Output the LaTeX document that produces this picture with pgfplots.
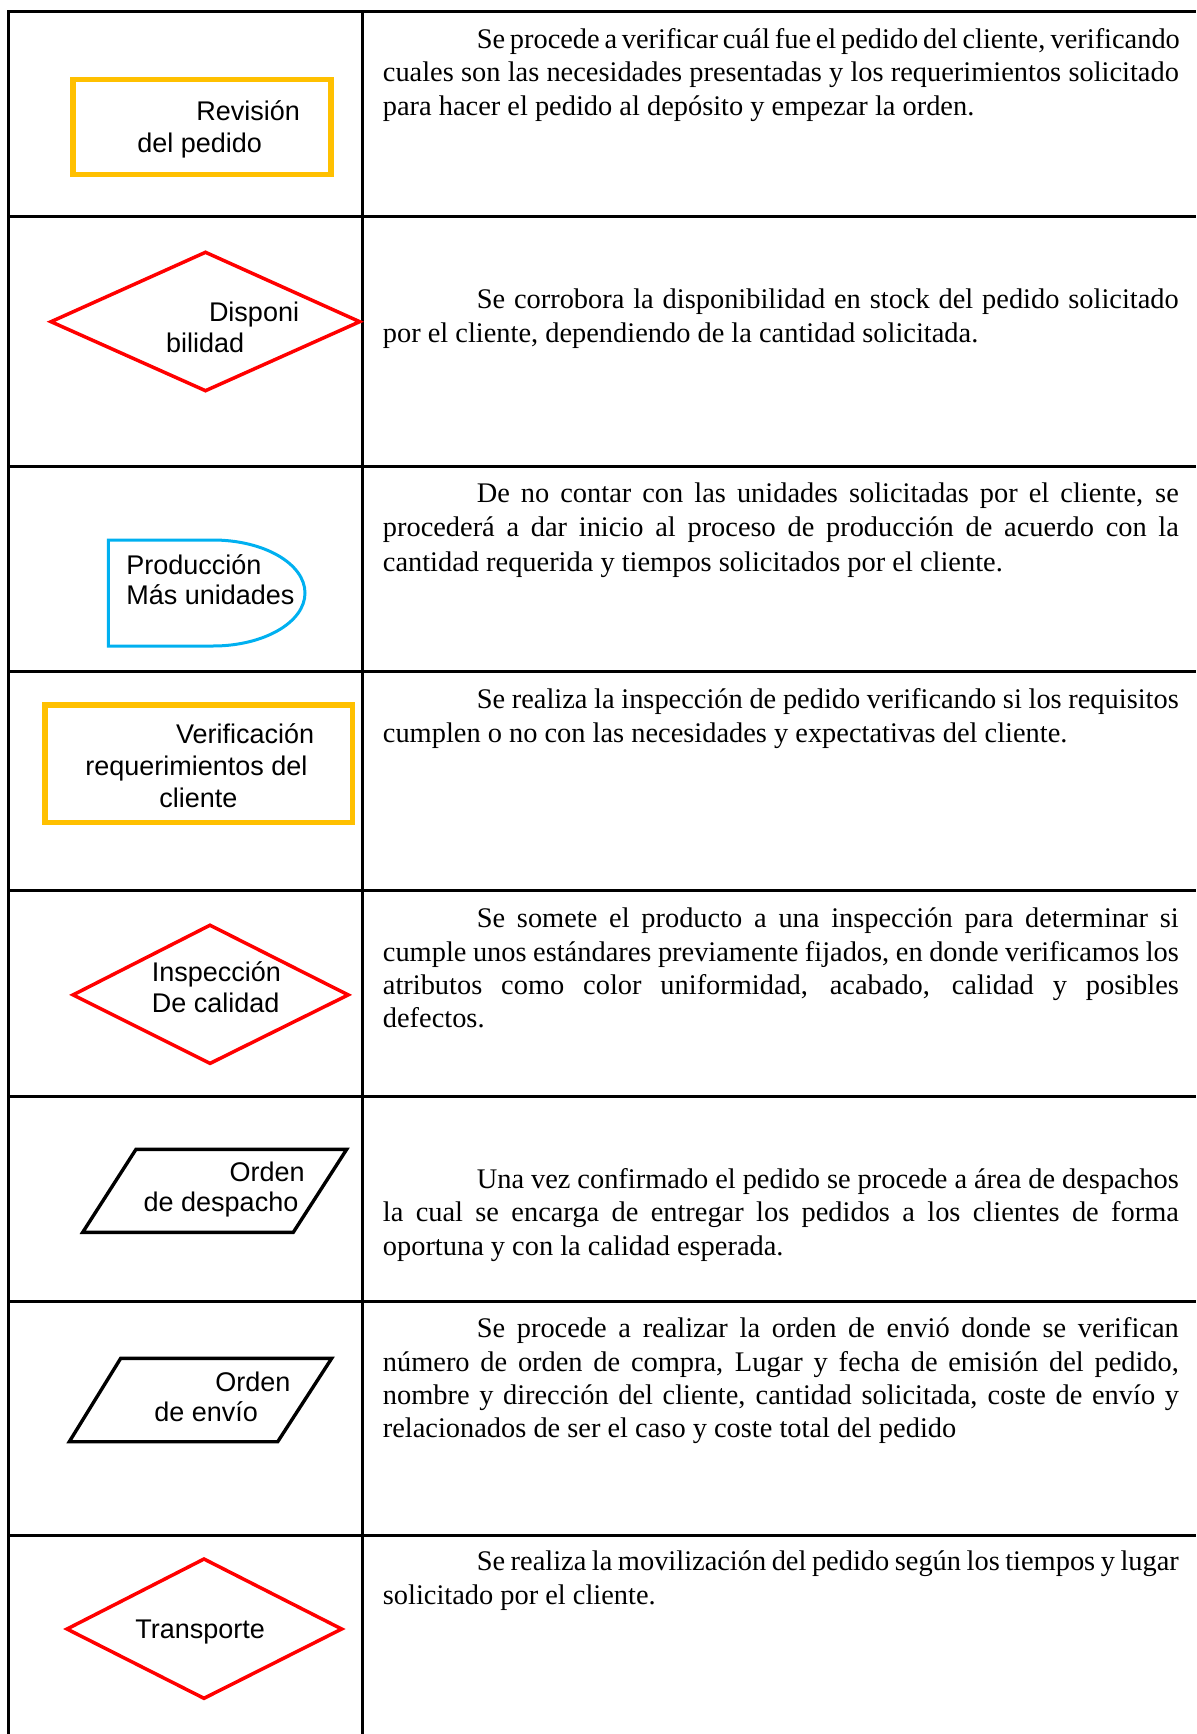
\documentclass[border=0pt]{standalone}
\usepackage{pgfplots}
\pgfplotsset{compat=1.18}
\usepackage{fontspec}
\setmainfont{Liberation Serif}
\newfontfamily\arial{Liberation Sans}
\definecolor{borange}{HTML}{FFC000}
\definecolor{bcyan}{HTML}{00B0F0}
\definecolor{bred}{HTML}{FF0000}
\newcommand\bt{\fontsize{14.2pt}{16pt}\selectfont}
\newcommand\FL[3]{\node[anchor=base west, inner sep=0pt] at (axis cs:382.5,#1) {\bt\makebox[398pt][s]{#3}};}
\newcommand\IL[2]{\node[anchor=base west, inner sep=0pt] at (axis cs:476.4,#1) {\bt\makebox[351pt][s]{#2}};}
\newcommand\LL[2]{\node[anchor=base west, inner sep=0pt] at (axis cs:382.5,#1) {\bt #2};}
\newcommand\SL[3]{\node[anchor=base west, inner sep=0pt, font=\arial\fontsize{13.5pt}{15pt}\selectfont] at (axis cs:#1,#2) {#3};}
\begin{document}
\begin{tikzpicture}
\begin{axis}[
  scale only axis, width=598pt, height=867pt,
  xmin=0, xmax=1196, ymin=0, ymax=1734, y dir=reverse,
  hide axis, clip=false,
]
% table grid
\addplot[black, line width=1.5pt] coordinates {(8,12) (8,1734)};
\addplot[black, line width=1.5pt] coordinates {(362,12) (362,1734)};
\addplot[black, line width=1.5pt] coordinates {(7.25,12) (1196,12)};
\addplot[black, line width=1.5pt] coordinates {(8,216) (1196,216)};
\addplot[black, line width=1.5pt] coordinates {(8,466) (1196,466)};
\addplot[black, line width=1.5pt] coordinates {(8,671) (1196,671)};
\addplot[black, line width=1.5pt] coordinates {(8,890) (1196,890)};
\addplot[black, line width=1.5pt] coordinates {(8,1096) (1196,1096)};
\addplot[black, line width=1.5pt] coordinates {(8,1301) (1196,1301)};
\addplot[black, line width=1.5pt] coordinates {(8,1535) (1196,1535)};

% shapes
\addplot[borange, line width=2.6pt, line join=miter] coordinates {(73,79.5) (331,79.5) (331,174.5) (73,174.5)} -- cycle;
\addplot[bred, line width=1.75pt, line join=miter] coordinates {(51,321.7) (205.5,252.3) (359.7,321.7) (205.5,390.7)} -- cycle;
\draw[bcyan, line width=1.5pt, line join=miter] (axis cs:108.3,540) -- (axis cs:213,540) .. controls (axis cs:263.8,540) and (axis cs:305,563.7) .. (axis cs:305,593) .. controls (axis cs:305,622.3) and (axis cs:263.8,646) .. (axis cs:213,646) -- (axis cs:108.3,646) -- cycle;
\addplot[borange, line width=2.6pt, line join=miter] coordinates {(45,705) (352.7,705) (352.7,822.3) (45,822.3)} -- cycle;
\addplot[bred, line width=1.75pt, line join=miter] coordinates {(73,994.9) (210,925.2) (348.2,994.9) (210,1063.4)} -- cycle;
\addplot[black, line width=1.7pt, line join=miter] coordinates {(136,1149.3) (346.7,1149.3) (293.3,1232.3) (82.7,1232.3)} -- cycle;
\addplot[black, line width=1.7pt, line join=miter] coordinates {(120.7,1358.3) (331.7,1358.3) (277.7,1441.7) (69.3,1441.7)} -- cycle;
\addplot[bred, line width=1.75pt, line join=miter] coordinates {(67,1629) (204,1559) (341.7,1629) (204,1698.3)} -- cycle;

% shape labels
\SL{196}{120.7}{Revisión}
\SL{137}{152.7}{del pedido}
\SL{208.6}{321.7}{Disponi}
\SL{165.7}{352.3}{bilidad}
\SL{126}{574}{Producción}
\SL{126}{604.3}{Más unidades}
\SL{175.7}{743.3}{Verificación}
\SL{85}{775}{requerimientos del}
\SL{159}{807}{cliente}
\SL{151.4}{981}{Inspección}
\SL{151.4}{1012}{De calidad}
\SL{229.3}{1181.7}{Orden}
\SL{143.3}{1211}{de despacho}
\SL{215}{1391.7}{Orden}
\SL{154}{1421.7}{de envío}
\SL{134.9}{1638.3}{Transporte}

% descriptions
\IL{48.5}{Se procede a verificar cuál fue el pedido del cliente, verificando}
\FL{81.5}{}{cuales son las necesidades presentadas y los requerimientos solicitado}
\LL{115.5}{para hacer el pedido al depósito y empezar la orden.}

\IL{308.1}{Se corrobora la disponibilidad en stock del pedido solicitado}
\LL{342.3}{por el cliente, dependiendo de la cantidad solicitada.}

\IL{502.6}{De no contar con las unidades solicitadas por el cliente, se}
\FL{536.9}{}{procederá a dar inicio al proceso de producción de acuerdo con la}
\LL{571.1}{cantidad requerida y tiempos solicitados por el cliente.}

\IL{708.2}{Se realiza la inspección de pedido verificando si los requisitos}
\LL{742.5}{cumplen o no con las necesidades y expectativas del cliente.}

\IL{927.1}{Se somete el producto a una inspección para determinar si}
\FL{961.4}{}{cumple unos estándares previamente fijados, en donde verificamos los}
\FL{994.5}{}{atributos como color uniformidad, acabado, calidad y posibles}
\LL{1027.7}{defectos.}

\IL{1188}{Una vez confirmado el pedido se procede a área de despachos}
\FL{1221.1}{}{la cual se encarga de entregar los pedidos a los clientes de forma}
\LL{1255.4}{oportuna y con la calidad esperada.}

\IL{1337.2}{Se procede a realizar la orden de envió donde se verifican}
\FL{1371.5}{}{número de orden de compra, Lugar y fecha de emisión del pedido,}
\FL{1404.6}{}{nombre y dirección del cliente, cantidad solicitada, coste de envío y}
\LL{1437.8}{relacionados de ser el caso y coste total del pedido}

\IL{1570.4}{Se realiza la movilización del pedido según los tiempos y lugar}
\LL{1604.6}{solicitado por el cliente.}

\coordinate (bl) at (axis cs:0,1734);
\coordinate (tr) at (axis cs:1196,0);
\end{axis}
\pgfresetboundingbox
\useasboundingbox (bl) rectangle (tr);
\end{tikzpicture}
\end{document}
